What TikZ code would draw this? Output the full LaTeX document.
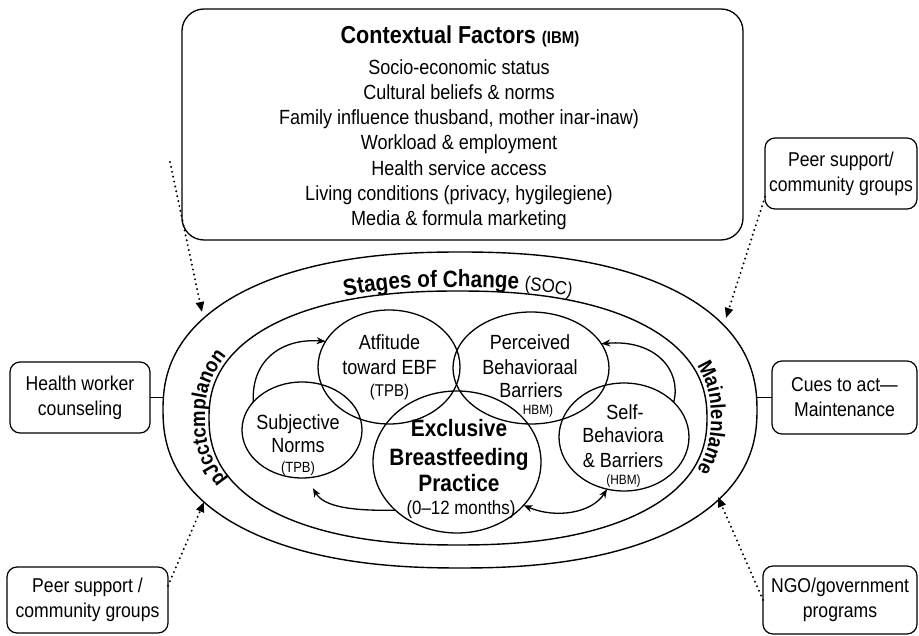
\documentclass[tikz,border=0pt]{standalone}
\usepackage{fontspec}
\setmainfont{Liberation Sans}[FakeStretch=0.88]
\usetikzlibrary{arrows.meta,shapes.geometric,decorations.text,calc}
\begin{document}
\begin{tikzpicture}[x=1pt,y=1pt,
  every node/.style={inner sep=0pt, outer sep=0pt},
  bx/.style={draw, rounded corners=10pt, line width=1.2pt, align=center, font=\fontsize{20}{25}\selectfont},
  ov/.style={draw, ellipse, line width=1.3pt},
  ln/.style={anchor=base, font=\fontsize{20.5}{24}\selectfont},
  bl/.style={anchor=base, font=\fontsize{23.7}{26}\selectfont\bfseries},
  arr/.style={line width=1.3pt, -{Stealth[length=9pt,width=7pt]}},
  arrb/.style={line width=1.3pt, {Stealth[length=9pt,width=7pt]}-{Stealth[length=9pt,width=7pt]}},
  dotarr/.style={line width=2.2pt, dash pattern=on 0pt off 5pt, line cap=round, -{Triangle[length=10pt,width=8pt]}},
  big/.style={line width=1.4pt}
]
\useasboundingbox (0,0) rectangle (919,635);

% ---------- contextual factors box ----------
\node[draw, rounded corners=22pt, line width=1.3pt, minimum width=561pt, minimum height=231pt] (ctx) at (462.5,510.5) {};
\node[anchor=base, font=\fontsize{24.5}{28}\selectfont\bfseries] (ctxT) at (460,591) {Contextual Factors {\fontsize{17}{20}\selectfont(IBM)}};
\node[ln] (c1) at (459,560.6) {Socio-economic status};
\node[ln] (c2) at (459,535.4) {Cultural beliefs \& norms};
\node[ln] (c3) at (459,510.3) {Family influence thusband, mother inar-inaw)};
\node[ln] (c4) at (459,485.1) {Workload \& employment};
\node[ln] (c5) at (459,459.9) {Health service access};
\node[ln] (c6) at (459,434.8) {Living conditions (privacy, hygilegiene)};
\node[ln] (c7) at (459,409.6) {Media \& formula marketing};

% ---------- stages of change ellipses (superellipse) ----------
\draw[big] plot[domain=0.5:360.5, samples=241] ({460+297*cos(\x)*abs(cos(\x))^(-0.13)}, {225+158*sin(\x)*abs(sin(\x))^(-0.13)}) -- cycle;
\draw[big] plot[domain=0.5:360.5, samples=241] ({458+249*cos(\x)*abs(cos(\x))^(-0.13)}, {217+127*sin(\x)*abs(sin(\x))^(-0.13)}) -- cycle;

% curved labels
\path[decorate, decoration={text along path, text align=center,
  text={|\fontsize{23.5}{25}\selectfont\bfseries|Stages of Change |\fontsize{19}{20}\selectfont|(SOC)}}]
  plot[domain=55:125, samples=70] ({458+253*cos(180-\x)*abs(cos(180-\x))^(-0.13)}, {217+131*sin(180-\x)*abs(sin(180-\x))^(-0.13)});
\path[decorate, decoration={text along path, text align=center,
  text={|\fontsize{21}{22}\selectfont\bfseries|pJcctcmplanon}}]
  plot[domain=145:215, samples=70] ({458+253*cos(360-\x)*abs(cos(360-\x))^(-0.13)}, {217+131*sin(360-\x)*abs(sin(360-\x))^(-0.13)});
\path[decorate, decoration={text along path, text align=center,
  text={|\fontsize{21}{22}\selectfont\bfseries|Mainlenlame}}]
  plot[domain=-35:35, samples=70] ({458+253*cos(-\x)*abs(cos(-\x))^(-0.13)}, {217+131*sin(-\x)*abs(sin(-\x))^(-0.13)});

% ---------- inner ellipses ----------
\node[ov, minimum width=142pt, minimum height=114pt] (att) at (389,268) {};
\node[ov, minimum width=156pt, minimum height=112pt] (perc) at (531,267) {};
\node[ov, minimum width=120pt, minimum height=96pt] (subj) at (302,205) {};
\node[ov, minimum width=168pt, minimum height=142pt] (ebf) at (457,173) {};
\node[ov, minimum width=130pt, minimum height=108pt] (self) at (624,198) {};

\node[ln] (a1) at (389.5,285.6) {Atfitude};
\node[ln] (a2) at (389.5,260.6) {toward EBF};
\node[ln, font=\fontsize{17}{20}\selectfont] (a3) at (389.5,238.9) {(TPB)};

\node[ln] (p1) at (530,285.6) {Perceived};
\node[ln] (p2) at (530,260.6) {Behavioraal};
\node[ln] (p3) at (531,237.6) {Barriers};
\node[ln, font=\fontsize{13.5}{16}\selectfont] (p4) at (538,220.1) {HBM)};

\node[ln] (s1) at (298,205.6) {Subjective};
\node[ln] (s2) at (298,182.6) {Norms};
\node[ln, font=\fontsize{14.8}{17}\selectfont] (s3) at (298,162.7) {(TPB)};

\node[ln] (f1) at (625,215.6) {Self-};
\node[ln] (f2) at (623,192.6) {Behaviora};
\node[ln] (f3) at (623,167.6) {\& Barriers};
\node[ln, font=\fontsize{13.5}{16}\selectfont] (f4) at (623.5,150.1) {(HBM)};

\node[bl] (e1) at (459,198.5) {Exclusive};
\node[bl] (e2) at (459,169.5) {Breastfeeding};
\node[bl] (e3) at (459,143.5) {Practice};
\node[ln, font=\fontsize{19.2}{22}\selectfont] (e4) at (461,120.1) {(0--12 months)};

% inner arrows
\draw[arr] (subj.150) .. controls (251,275) and (282,297) .. (att.158);
\draw[arr] (self.35) .. controls (682,265) and (655,296) .. (perc.19);
\draw[arr] (ebf.218) .. controls (352,124) and (324,128) .. ([yshift=-11pt]subj.283);
\draw[arrb] (ebf.327) .. controls (556,116) and (592,122) .. (self.252);

% ---------- external boxes ----------
\node[bx, minimum width=140pt, minimum height=71pt] (hw) at (80,237.5) {Health worker\\counseling};
\node[bx, minimum width=161pt, minimum height=66pt] (peerL) at (87.5,35) {Peer support /\\community groups};
\node[bx, minimum width=152pt, minimum height=71pt] (peerR) at (841,461.5) {Peer support/\\community groups};
\node[bx, minimum width=145pt, minimum height=73pt] (cues) at (844.5,237.5) {Cues to act---\\Maintenance};
\node[bx, minimum width=154pt, minimum height=68pt] (ngo) at (840,35) {NGO/government\\programs};

\coordinate (oW) at (163,237.5);
\coordinate (oE) at (757,237.5);
\draw[line width=1.3pt] (hw.east) -- (oW);
\draw[line width=1.3pt] (cues.west) -- (oE);

\coordinate (tlS) at (170,473);
\coordinate (tlE) at (202,323);
\coordinate (trE) at (726,317);
\coordinate (blE) at (204,133);
\coordinate (brE) at (718,138);
\draw[dotarr] (tlS) -- (tlE);
\draw[dotarr] (peerR.197) -- (trE);
\draw[dotarr] (peerL.10) -- (blE);
\draw[dotarr] (ngo.west) -- (brE);
\end{tikzpicture}
\end{document}
